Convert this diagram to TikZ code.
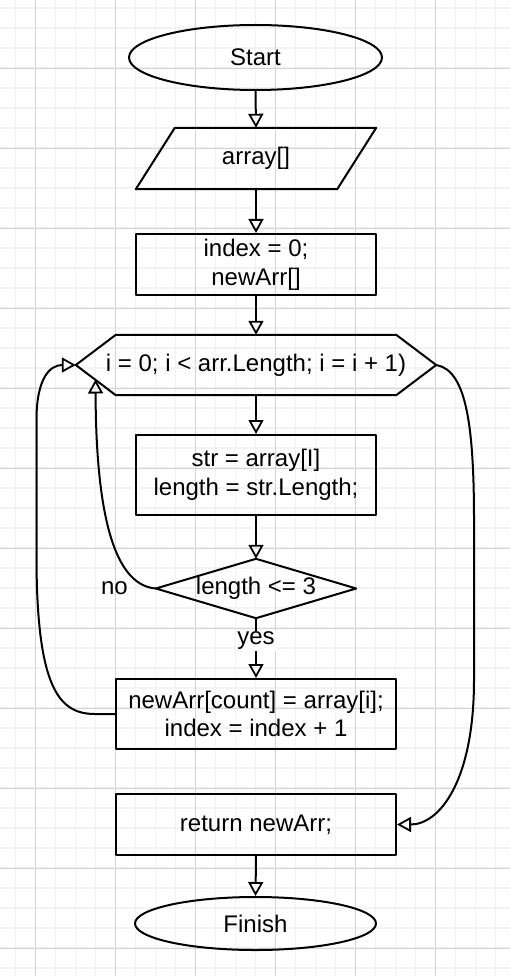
\documentclass[tikz,border=0pt]{standalone}
\usepackage{fontspec}
\setmainfont{Liberation Sans}
\usetikzlibrary{shapes.geometric,arrows.meta,calc}
\definecolor{gridminor}{RGB}{243,243,243}
\definecolor{gridmajor}{RGB}{212,212,212}
\newcommand\diafont{\fontsize{24}{28.8}\selectfont}
\tikzset{
  outline/.style={line width=2pt, line join=round},
  box/.style={draw, outline, rectangle, inner sep=0pt, align=center, font=\diafont},
  bare/.style={rectangle, inner sep=0pt, align=center, font=\diafont},
  term/.style={draw, outline, ellipse, inner sep=0pt, font=\diafont},
  flow/.style={line width=2pt, -{Triangle[open,length=14pt,width=15pt,line width=1.8pt]}},
  lbl/.style={font=\diafont, inner sep=1pt}
}
\begin{document}
\begin{tikzpicture}[x=1pt,y=-1pt]
\useasboundingbox (0,0) rectangle (510,976);
\fill[white] (0,0) rectangle (510,976);
% grid
\foreach \i in {0,...,24} {
  \draw[gridminor, line width=1.5pt] (15.5+20*\i,0) -- (15.5+20*\i,976);
}
\foreach \i in {0,...,48} {
  \draw[gridminor, line width=1.5pt] (0,8+20*\i) -- (510,8+20*\i);
}
\foreach \i in {0,...,5} {
  \draw[gridmajor, line width=0.8pt] (35.5+80*\i,0) -- (35.5+80*\i,976);
}
\foreach \i in {0,...,11} {
  \draw[gridmajor, line width=0.8pt] (0,68+80*\i) -- (510,68+80*\i);
}

% nodes
\node[term, minimum width=253pt, minimum height=65pt] (start) at (255.5,57.5) {Start};

\node[bare, minimum width=240pt, minimum height=61pt] (arr) at (256,158.5) {array[]};
\draw[outline] (arr.south west) -- ($(arr.north west)+(39,0)$) -- (arr.north east)
  -- ($(arr.south east)+(-39,0)$) -- cycle;

\node[box, minimum width=240pt, minimum height=61pt] (idx) at (256,264.5) {index = 0;\\newArr[]};

\node[bare, minimum width=360pt, minimum height=60pt] (loop) at (256,365) {i = 0; i < arr.Length; i = i + 1)};
\draw[outline] (loop.west) -- ($(loop.north west)+(40,0)$) -- ($(loop.north east)+(-40,0)$)
  -- (loop.east) -- ($(loop.south east)+(-40,0)$) -- ($(loop.south west)+(40,0)$) -- cycle;
\coordinate (noend) at (95.5,379.5);

\node[box, minimum width=240pt, minimum height=80pt] (str) at (256,475) {str = array[I]\\length = str.Length;};

\node[bare, minimum width=200pt, minimum height=59pt] (cond) at (256,588.5) {length <= 3};
\draw[outline] (cond.west) -- (cond.north) -- (cond.east) -- (cond.south) -- cycle;

\node[box, minimum width=280pt, minimum height=70pt] (body) at (256,714) {newArr[count] = array[i];\\index = index + 1};

\node[box, minimum width=280pt, minimum height=61pt] (ret) at (256,824.5) {return newArr;};

\node[term, minimum width=241pt, minimum height=53pt] (finish) at (255.5,923.5) {Finish};

% connectors
\draw[flow] (start.south) -- (arr.north);
\draw[flow] (arr.south) -- (idx.north);
\draw[flow] (idx.south) -- (loop.north);
\draw[flow] (loop.south) -- (str.north);
\draw[flow] (str.south) -- (cond.north);
\draw[flow] (cond.south) -- node[lbl, pos=0.38, fill=white] {yes} (body.north);
\draw[flow] (cond.west) node[lbl, left=26pt] {no}
  .. controls (110,585) and (96,500) .. (noend);
\draw[flow] (body.west) -- ++(-20,0) .. controls (60,714) and (37,690) .. (36.5,560)
  -- (36.5,420) .. controls (36.5,378) and (50,365) .. (loop.west);
\draw[flow] (loop.east) .. controls (465,370) and (474,420) .. (474,520)
  -- (474,680) .. controls (474,780) and (440,824.5) .. (ret.east);
\draw[flow] (ret.south) -- (finish.north);
\end{tikzpicture}
\end{document}
